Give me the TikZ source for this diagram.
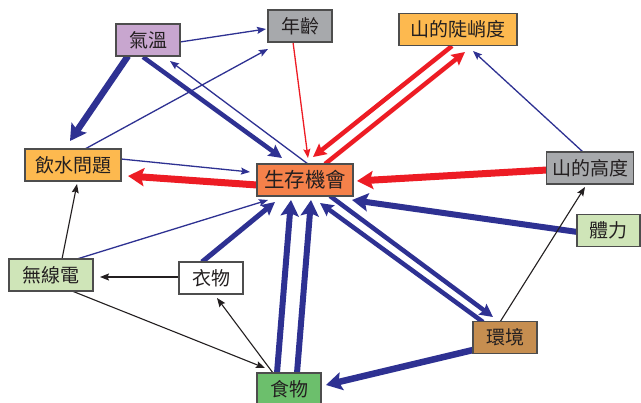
\documentclass[tikz,border=0pt]{standalone}
\usepackage{fontspec}
\newfontfamily\cjk{Noto Sans CJK TC}
\usetikzlibrary{arrows.meta,backgrounds}
\definecolor{eblue}{HTML}{2E3192}
\definecolor{ered}{HTML}{ED1C24}
\definecolor{eblack}{HTML}{231F20}
\definecolor{bord}{HTML}{4D4D4D}
\definecolor{cpurple}{HTML}{C8A6CF}
\definecolor{cgray}{HTML}{A7A9AC}
\definecolor{camber}{HTML}{FDB94F}
\definecolor{corange}{HTML}{F5814A}
\definecolor{clgreen}{HTML}{CFE5B8}
\definecolor{cgreen}{HTML}{6CBF6C}
\definecolor{cbrown}{HTML}{C68E50}
\tikzset{
  box/.style={draw=bord, line width=1.1pt, minimum height=32pt, inner sep=0pt,
    text=eblack, font=\cjk\fontsize{19}{19}\selectfont},
  thinl/.style={line width=1.3pt, -{Stealth[length=9pt,width=7pt,inset=1.5pt]}},
  medl/.style={line width=4.5pt, -{Stealth[length=13pt,width=13pt,inset=2pt]}},
  thickl/.style={line width=6.5pt, -{Stealth[length=16pt,width=18pt,inset=3pt]}},
}
\begin{document}
\begin{tikzpicture}[x=1pt,y=-1pt]
\useasboundingbox (0,0) rectangle (641,403);
\node[box, fill=cpurple, minimum width=64pt] (qw) at (148,40) {氣溫};
\node[box, fill=cgray, minimum width=64pt] (nl) at (300,26) {年齡};
\node[box, fill=camber, minimum width=118pt] (dq) at (458,29.5) {山的陡峭度};
\node[box, fill=camber, minimum width=96pt] (ys) at (73,165) {飲水問題};
\node[box, fill=corange, minimum width=96pt, font=\cjk\fontsize{20.5}{20.5}\selectfont] (sc) at (305,180) {生存機會};
\node[box, fill=cgray, minimum width=87pt] (gd) at (590,168) {山的高度};
\node[box, fill=clgreen, minimum width=63pt] (tl) at (608.5,230.5) {體力};
\node[box, fill=clgreen, minimum width=84pt] (rd) at (51,275) {無線電};
\node[box, fill=white, minimum width=64pt] (yw) at (211,278) {衣物};
\node[box, fill=cgreen, minimum width=64pt] (fd) at (289,389) {食物};
\node[box, fill=cbrown, minimum width=64pt] (hj) at (505,337.5) {環境};
\begin{scope}[on background layer]
\fill[white] (0,0) rectangle (641,403);
% blue thick / medium
\draw[eblue, thickl] ([shift={(-20,16)}]qw.center) -- ([shift={(-3,-24)}]ys.center);
\draw[eblue, medl] ([shift={(-5,17)}]qw.center) -- ([shift={(-23,-22)}]sc.center);
\draw[eblue, thickl, line width=6pt] ([shift={(-31,1.5)}]tl.center) -- ([shift={(47,20)}]sc.center);
\draw[eblue, medl] ([shift={(-22,-15.5)}]hj.center) -- ([shift={(15,23)}]sc.center);
\draw[eblue, medl] ([shift={(25,16)}]sc.center) -- ([shift={(-12,-20.5)}]hj.center);
\draw[eblue, thickl] ([shift={(-32,12.5)}]hj.center) -- ([shift={(37,-4)}]fd.center);
\draw[eblue, thickl, line width=6pt] ([shift={(-12,-16)}]fd.center) -- ([shift={(-14,20)}]sc.center);
\draw[eblue, thickl, line width=6pt] ([shift={(8,-16)}]fd.center) -- ([shift={(6,20)}]sc.center);
\draw[eblue, medl, line width=5pt] ([shift={(-9,-16)}]yw.center) -- ([shift={(-30,22)}]sc.center);
% blue thin
\draw[eblue, thinl] ([shift={(32,2)}]qw.center) -- ([shift={(-34,3)}]nl.center);
\draw[eblue, thinl] ([shift={(3,-16)}]sc.center) -- ([shift={(22,21)}]qw.center);
\draw[eblue, thinl] ([shift={(12,-16)}]ys.center) -- ([shift={(-32,23)}]nl.center);
\draw[eblue, thinl] ([shift={(48,-6)}]ys.center) -- ([shift={(-55,-8)}]sc.center);
\draw[eblue, thinl] ([shift={(-7,-16)}]gd.center) -- ([shift={(15,21.5)}]dq.center);
\draw[eblue, thinl] ([shift={(26,-16)}]rd.center) -- ([shift={(-37,20)}]sc.center);
% red
\draw[ered, thinl] ([shift={(-7,16)}]nl.center) -- ([shift={(3,-22)}]sc.center);
\draw[ered, thickl, line width=7pt] ([shift={(-48,5)}]sc.center) -- ([shift={(55,11)}]ys.center);
\draw[ered, thickl, line width=7pt] ([shift={(-43,2)}]gd.center) -- ([shift={(52,1)}]sc.center);
\draw[ered, medl] ([shift={(-6,16.5)}]dq.center) -- ([shift={(8,-23)}]sc.center);
\draw[ered, medl] ([shift={(20,-16)}]sc.center) -- ([shift={(7,22.5)}]dq.center);
% black thin
\draw[eblack, thinl, line width=1.1pt] ([shift={(-5,-15.5)}]hj.center) -- ([shift={(-5,19)}]gd.center);
\draw[eblack, thinl, line width=1.1pt] ([shift={(11,-16)}]rd.center) -- ([shift={(4,19)}]ys.center);
\draw[eblack, thinl, line width=1.1pt] ([shift={(-32,-1)}]yw.center) -- ([shift={(49,2)}]rd.center);
\draw[eblack, thinl, line width=1.1pt] ([shift={(21,16)}]rd.center) -- ([shift={(-24,-21)}]fd.center);
\draw[eblack, thinl, line width=1.1pt] ([shift={(-16,-16)}]fd.center) -- ([shift={(6,20)}]yw.center);
\end{scope}
\end{tikzpicture}
\end{document}
